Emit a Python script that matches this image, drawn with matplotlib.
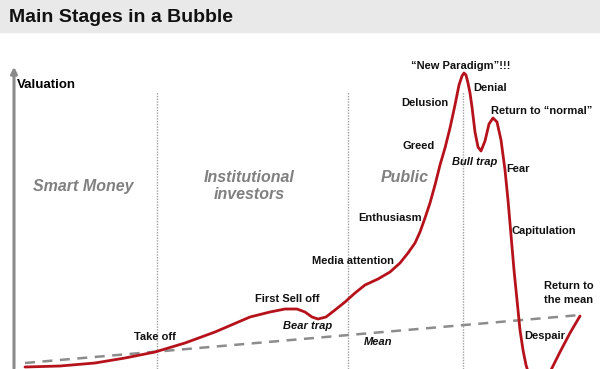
import matplotlib
matplotlib.use("Agg")
from matplotlib import pyplot as plt

# bubble curve (time, valuation)
time = [25, 60, 95, 125, 155, 185, 215, 250, 270, 285, 297, 305, 312, 318, 326,
        335, 345, 355, 365, 378, 390, 400, 408, 415, 420, 425, 430, 435, 440, 445,
        450, 455, 459, 462, 464, 466, 468, 470, 472, 475, 478, 481, 485, 489, 493, 497, 501,
        505, 508, 511, 514, 517, 520, 523, 526, 530, 540, 550, 560, 570, 580]
valuation = [2, 3, 6, 11, 17, 26, 37, 52, 57, 60, 60, 57, 52, 50, 52,
             59, 67, 76, 84, 90, 97, 106, 116, 126, 137, 151, 166, 184, 204, 221,
             241, 264, 284, 293, 296, 294, 286, 276, 262, 237, 222, 218, 228, 245, 251, 247, 229,
             199, 169, 134, 99, 69, 39, 19, 4, -9, -13, -3, 17, 36, 53]

mean_time = [25, 580]
mean_value = [6, 54]

phase_edges = [157, 348, 463]
phases = ["Smart Money", "Institutional\ninvestors", "Public"]
phase_pos = [(83, 183), (249, 183), (405, 192)]

labels = ["Take off", "First Sell off", "Media attention", "Enthusiasm", "Greed",
          "Delusion", "\u201cNew Paradigm\u201d!!!", "Denial", "Return to \u201cnormal\u201d",
          "Fear", "Capitulation", "Return to\nthe mean", "Despair"]
label_pos = [(155, 32), (287, 70), (353, 108), (390, 151), (419, 223),
             (425, 266), (461, 303), (490, 281), (542, 258),
             (518, 200), (544, 138), (569, 76), (545, 33)]
italic_labels = ["Bear trap", "Mean", "Bull trap"]
italic_pos = [(308, 43), (378, 27), (475, 207)]

font = ["Liberation Sans Narrow", "Liberation Sans", "DejaVu Sans"]

fig = plt.figure(figsize=(6, 3.69), dpi=100)
ax = fig.add_axes([0, 0, 1, 1])
ax.set_xlim(0, 600)
ax.set_ylim(0, 369)
ax.axis("off")

# title band
ax.axhspan(337, 369, color="#e9e9e9", zorder=0)
ax.text(9, 352, "Main Stages in a Bubble", fontsize=14, fontweight="bold",
        family=font, color="#111111", va="center", ha="left")

# y axis arrow
ax.annotate("", xy=(14, 305), xytext=(14, -2),
            arrowprops=dict(arrowstyle="-|>", color="#8a8a8a", lw=2.2,
                            mutation_scale=9))
ax.text(17, 284, "Valuation", fontsize=9.5, fontweight="bold", family=font,
        va="center", ha="left")

for x in phase_edges:
    ax.plot([x, x], [0, 277], color="#a0a0a0", lw=1, linestyle=(0, (1, 1)), zorder=1)

for name, (x, y) in zip(phases, phase_pos):
    ax.text(x, y, name, fontsize=11.5, fontweight="bold", style="italic",
            color="#808080", family=font, ha="center", va="center", linespacing=1.1)

ax.plot(mean_time, mean_value, color="#8c8c8c", lw=1.8, linestyle=(0, (4, 3)), zorder=2)
ax.plot(time, valuation, color="#b5121b", lw=2, zorder=3, solid_capstyle="round")

for name, (x, y) in zip(labels, label_pos):
    ax.text(x, y, name, fontsize=8, fontweight="bold", family=font,
            ha="center", va="center", linespacing=1.4, color="#111111")
for name, (x, y) in zip(italic_labels, italic_pos):
    ax.text(x, y, name, fontsize=8, fontweight="bold", style="italic", family=font,
            ha="center", va="center", color="#111111")

fig.savefig("out.png", dpi=100)
